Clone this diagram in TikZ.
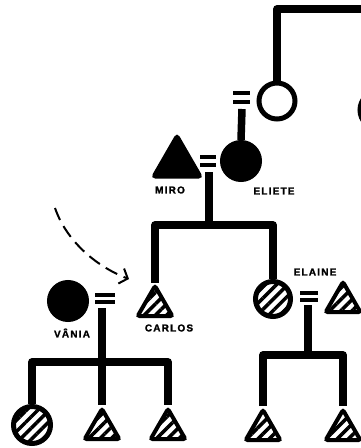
\documentclass[tikz,border=0pt]{standalone}
\usepackage{fontspec}
\setmainfont{Liberation Sans}
\usetikzlibrary{shapes.geometric,patterns.meta,arrows.meta}
\tikzset{
  bond/.style={line width=7.5pt, line join=round},
  eqbar/.style={line width=3.5pt},
  tri/.style={regular polygon, regular polygon sides=3, draw, line width=4pt, rounded corners=2pt, inner sep=0pt, minimum size=#1},
  circ/.style={circle, draw, line width=5pt, inner sep=0pt, minimum size=#1},
  hatch/.style={pattern={Lines[angle=45,distance=8pt,line width=3.5pt]}},
  solid black/.style={fill=black},
  lab/.style={font=\bfseries\fontsize{10}{11}\selectfont\addfontfeatures{LetterSpace=12,FakeBold=1.5}, inner sep=0pt}
}
\begin{document}
\begin{tikzpicture}[x=1pt,y=-1pt]
\useasboundingbox (0,0) rectangle (361,448);
\clip (0,0) rectangle (361,448);
\fill[white] (0,0) rectangle (361,448);

% --- shapes ---
\node[circ=36] (topc) at (277,101) {};
\node[circ=38, solid black] (edge) at (379,110) {};
\node[circ=37, solid black] (eliete) at (241,161) {};
\node[tri=54, solid black] (miro) at (177,163) {};
\node[circ=37, solid black] (vania) at (68,301) {};
\node[tri=40, hatch] (carlos) at (155,306) {};
\node[circ=35, hatch] (elaine) at (273,299) {};
\node[tri=40, hatch] (husb) at (343,302) {};
\node[circ=37, hatch] (c1) at (32,425) {};
\node[tri=40, hatch] (c2) at (102,429) {};
\node[tri=40, hatch] (c3) at (168,429) {};
\node[tri=40, hatch] (c4) at (263,430) {};
\node[tri=40, hatch] (c5) at (343,430) {};

% --- coordinates ---
\coordinate (tl) at (277,9);
\coordinate (tr) at (370,9);
\coordinate (eq1s) at (242,109);
\coordinate (eq2s) at (209,172);
\coordinate (sib1) at (209,225);
\coordinate (eq3s) at (102,308);
\coordinate (sib2) at (102,362);
\coordinate (eq4s) at (308,305);
\coordinate (sib3) at (308,355);

% --- lines ---
\draw[bond] (topc.north) -- (tl) -- (tr);
\draw[bond] (eq1s) -- (eliete.north);
\draw[bond] (eq2s) -- (sib1);
\draw[bond] (carlos.corner 1) |- (sib1) -| (elaine.north);
\draw[bond] (eq3s) -- (c2.corner 1);
\draw[bond] (c1.north) |- (sib2) -| (c3.corner 1);
\draw[bond] (eq4s) -- (sib3);
\draw[bond] (c4.corner 1) |- (sib3) -| (c5.corner 1);

% --- equal signs ---
\draw[eqbar] (233,93) -- (250,93) (233,102) -- (250,102);
\draw[eqbar] (200,157) -- (216,157) (200,165) -- (216,165);
\draw[eqbar] (95,295) -- (115,295) (95,302) -- (115,302);
\draw[eqbar] (300,293) -- (318,293) (300,300) -- (318,300);

% --- dashed arrow ---
\coordinate (arrS) at (55,208);
\coordinate (arrE) at (129,279);
\draw[line width=2pt, dash pattern=on 13pt off 7pt, -{Straight Barb[length=7pt,width=16pt]}]
  (arrS) .. controls (66,240) and (95,266) .. (arrE);

% --- labels ---
\node[lab] (lmiro) at (170,190) {MIRO};
\node[lab] (leliete) at (274,191) {ELIETE};
\node[lab] (lelaine) at (315,272) {ELAINE};
\node[lab] (lcarlos) at (169,328) {CARLOS};
\node[lab] (lvania) at (72,333) {VÂNIA};
\end{tikzpicture}
\end{document}
